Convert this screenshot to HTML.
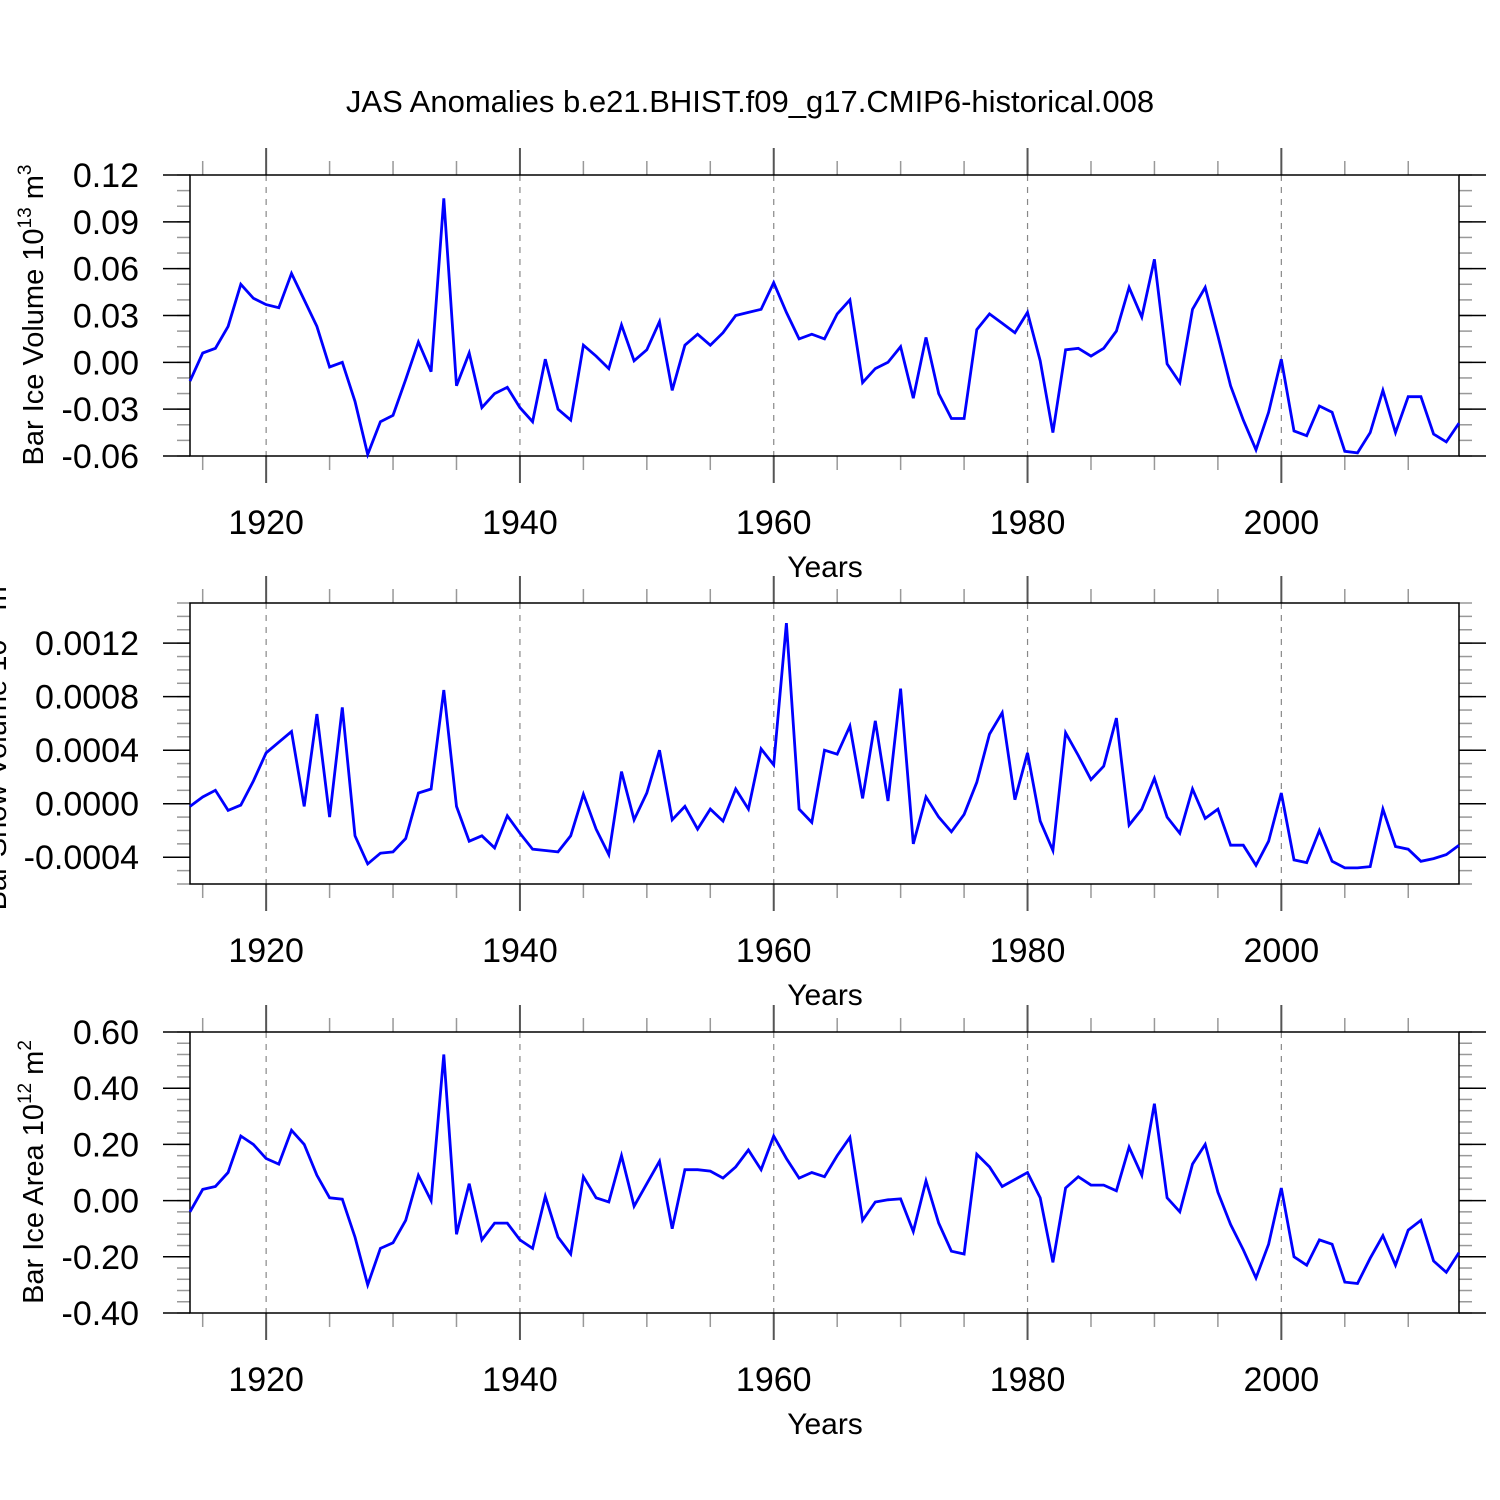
<!DOCTYPE html>
<html><head><meta charset="utf-8"><style>
html,body{margin:0;padding:0;background:#fff;}
svg{display:block;font-family:"Liberation Sans",sans-serif;}
</style></head><body>
<svg id="chart" width="1500" height="1500" viewBox="0 0 1500 1500">
<text x="750" y="112" font-size="31" text-anchor="middle">JAS Anomalies b.e21.BHIST.f09_g17.CMIP6-historical.008</text>
</svg>
<script>
const years = [];
for (let y = 1914; y <= 2014; y++) years.push(y);
const iceVolume = [-0.012,0.006,0.009,0.023,0.050,0.041,0.037,0.035,0.057,0.040,0.023,-0.003,0.000,-0.025,-0.059,-0.038,-0.034,-0.011,0.013,-0.006,0.105,-0.015,0.006,-0.029,-0.020,-0.016,-0.029,-0.038,0.002,-0.030,-0.037,0.011,0.004,-0.004,0.024,0.001,0.008,0.026,-0.018,0.011,0.018,0.011,0.019,0.030,0.032,0.034,0.051,0.032,0.015,0.018,0.015,0.031,0.040,-0.013,-0.004,0.000,0.010,-0.023,0.016,-0.020,-0.036,-0.036,0.021,0.031,0.025,0.019,0.032,0.001,-0.045,0.008,0.009,0.004,0.009,0.020,0.048,0.029,0.066,-0.001,-0.013,0.034,0.048,0.017,-0.015,-0.037,-0.056,-0.032,0.002,-0.044,-0.047,-0.028,-0.032,-0.057,-0.058,-0.045,-0.018,-0.045,-0.022,-0.022,-0.046,-0.051,-0.039];
const snowVolume = [-0.00002,0.00005,0.0001,-0.00005,-0.00001,0.00017,0.00038,0.00046,0.00054,-0.00002,0.00067,-0.0001,0.00072,-0.00024,-0.00045,-0.00037,-0.00036,-0.00026,0.00008,0.00011,0.00085,-0.00002,-0.00028,-0.00024,-0.00033,-0.00009,-0.00022,-0.00034,-0.00035,-0.00036,-0.00024,0.00007,-0.00019,-0.00038,0.00024,-0.00012,0.00008,0.0004,-0.00012,-0.00002,-0.00019,-0.00004,-0.00013,0.00011,-0.00004,0.00041,0.00029,0.00135,-0.00004,-0.00014,0.0004,0.00037,0.00058,0.00004,0.00062,0.00002,0.00086,-0.0003,0.00005,-0.0001,-0.00021,-0.00008,0.00016,0.00052,0.00068,0.00003,0.00038,-0.00013,-0.00035,0.00053,0.00036,0.00018,0.00028,0.00064,-0.00016,-0.00004,0.00019,-0.0001,-0.00022,0.00011,-0.00011,-0.00004,-0.00031,-0.00031,-0.00046,-0.00028,0.00008,-0.00042,-0.00044,-0.0002,-0.00043,-0.00048,-0.00048,-0.00047,-0.00004,-0.00032,-0.00034,-0.00043,-0.00041,-0.00038,-0.00031];
const iceArea = [-0.04,0.04,0.05,0.10,0.23,0.20,0.15,0.13,0.25,0.20,0.09,0.01,0.005,-0.13,-0.30,-0.17,-0.15,-0.07,0.09,0.0,0.52,-0.12,0.06,-0.14,-0.08,-0.08,-0.14,-0.17,0.015,-0.13,-0.19,0.085,0.01,-0.005,0.16,-0.02,0.06,0.14,-0.10,0.11,0.11,0.105,0.08,0.12,0.18,0.11,0.23,0.15,0.08,0.10,0.085,0.16,0.225,-0.07,-0.005,0.003,0.006,-0.11,0.07,-0.08,-0.18,-0.19,0.165,0.12,0.05,0.075,0.10,0.01,-0.22,0.045,0.085,0.055,0.055,0.035,0.19,0.09,0.345,0.01,-0.04,0.13,0.20,0.03,-0.085,-0.175,-0.275,-0.155,0.045,-0.2,-0.23,-0.14,-0.155,-0.29,-0.295,-0.205,-0.125,-0.23,-0.105,-0.07,-0.215,-0.255,-0.185];
const xMajorTicks = [1920,1940,1960,1980,2000];
const volTicks = ["0.12","0.09","0.06","0.03","0.00","-0.03","-0.06"];
const snowTicks = ["0.0012","0.0008","0.0004","0.0000","-0.0004"];
const areaTicks = ["0.60","0.40","0.20","0.00","-0.20","-0.40"];

const NS = "http://www.w3.org/2000/svg";
const svg = document.getElementById("chart");
const X0 = 190, X1 = 1459, YR0 = 1914, YR1 = 2014;
function xScale(yr){ return X0 + (yr - YR0) / (YR1 - YR0) * (X1 - X0); }
function mk(tag, attrs, parent){ const e = document.createElementNS(NS, tag); for (const k in attrs) e.setAttribute(k, attrs[k]); (parent||svg).appendChild(e); return e; }

function panel(name, top, ymin, ymax, tickLabels, minorStep, values, label, sup, unit, labelX){
  const bot = top + 281;
  const g = mk("g", {});
  
  
  const yScale = v => bot - (v - ymin) / (ymax - ymin) * 281;
  xMajorTicks.forEach(yr => {
    const l = mk("line", {x1:xScale(yr), x2:xScale(yr), y1:top, y2:bot, stroke:"#888", "stroke-width":1.2, "stroke-dasharray":"6,6"}, g);
    
    
  });
  for (let yr = 1915; yr <= 2010; yr += 5) {
    const major = yr % 20 === 0;
    const len = major ? 27 : 14;
    const x = xScale(yr);
    mk("line", {x1:x, x2:x, y1:top-len, y2:top, stroke:major?"#555":"#999", "stroke-width":major?2:1.5}, g);
    mk("line", {x1:x, x2:x, y1:bot, y2:bot+len, stroke:major?"#555":"#999", "stroke-width":major?2:1.5}, g);
  }
  xMajorTicks.forEach(yr => {
    const t = mk("text", {x:xScale(yr), y:bot+78, "font-size":34, "text-anchor":"middle"}, g);
    t.textContent = yr;
    
    
  });
  const xt = mk("text", {x:825, y:bot+121, "font-size":30, "text-anchor":"middle"}, g);
  xt.textContent = "Years";
  
  
  const nMin = Math.round((ymax - ymin) / minorStep);
  for (let i = 0; i <= nMin; i++) {
    const y = yScale(ymin + i * minorStep);
    mk("line", {x1:X0-13, x2:X0, y1:y, y2:y, stroke:"#999", "stroke-width":1.5}, g);
    mk("line", {x1:X1, x2:X1+13, y1:y, y2:y, stroke:"#999", "stroke-width":1.5}, g);
  }
  tickLabels.forEach(s => {
    const v = parseFloat(s), y = yScale(v);
    mk("line", {x1:X0-27, x2:X0, y1:y, y2:y, stroke:"#000", "stroke-width":1.5}, g);
    mk("line", {x1:X1, x2:X1+27, y1:y, y2:y, stroke:"#000", "stroke-width":1.5}, g);
    const t = mk("text", {x:139, y:y+12, "font-size":34, "text-anchor":"end"}, g);
    t.textContent = s;
    
    
  });
  mk("rect", {x:X0, y:top, width:X1-X0, height:281, fill:"none", stroke:"#000", "stroke-width":1.5}, g);
  const pts = values.map((v,i) => xScale(years[i]).toFixed(1) + "," + yScale(v).toFixed(1)).join(" ");
  const pl = mk("polyline", {points:pts, fill:"none", stroke:"#0000ff", "stroke-width":2.8, "stroke-linejoin":"miter"}, g);
  
  
  const cy = top + 140;
  const yt = mk("text", {x:0, y:0, "font-size":29, "text-anchor":"middle", transform:"translate(" + labelX + "," + cy + ") rotate(-90)"}, g);
  
  
  yt.appendChild(document.createTextNode(label + " 10"));
  const s1 = mk("tspan", {dy:-12, "font-size":19}, yt); s1.textContent = sup;
  const s2 = mk("tspan", {dy:12}, yt); s2.textContent = " m";
  const s3 = mk("tspan", {dy:-12, "font-size":19}, yt); s3.textContent = unit;
}
panel("ice-volume", 175, -0.06, 0.12, volTicks, 0.01, iceVolume, "Bar Ice Volume", "13", "3", 43);
panel("snow-volume", 603, -0.0006, 0.0015, snowTicks, 0.0001, snowVolume, "Bar Snow Volume", "13", "3", 6);
panel("ice-area", 1032, -0.40, 0.60, areaTicks, 0.04, iceArea, "Bar Ice Area", "12", "2", 43);
</script>
</body></html>
